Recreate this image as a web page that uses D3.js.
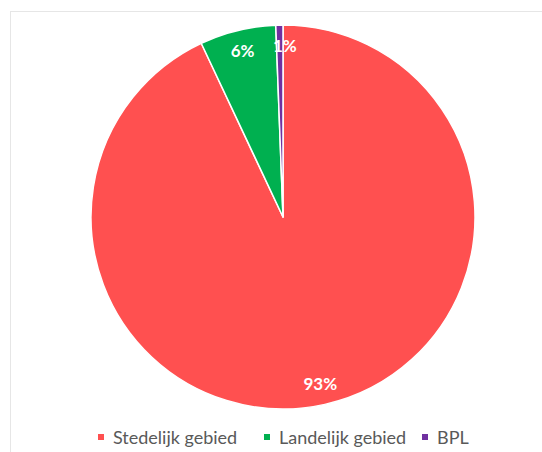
<!DOCTYPE html>
<html><head><meta charset="utf-8">
<script src="https://cdn.jsdelivr.net/npm/d3@7"></script>
<style>body{margin:0;background:#fff;}svg{display:block;}</style>
</head><body>
<script>
const categories = ["Stedelijk gebied", "Landelijk gebied", "BPL"];
const values = [93.0, 6.4, 0.6];
const colors = ["#FF5050", "#00B050", "#7030A0"];

const W = 542, H = 452;
const svg = d3.select("body").append("svg").attr("width", W).attr("height", H);

// chart border
svg.append("rect").attr("x", 10.5).attr("y", 11.5).attr("width", W).attr("height", H)
  .attr("fill", "none").attr("stroke", "#e6e6e6").attr("stroke-width", 1);

const cx = 283, cy = 217, R = 192;
const data = categories.map((c, i) => ({ cat: c, value: values[i], color: colors[i] }));
const total = d3.sum(values);
const pie = d3.pie().value(d => d.value).sort(null);
const arcs = pie(data);
const arc = d3.arc().innerRadius(0).outerRadius(R);
const labelArc = d3.arc().innerRadius(171).outerRadius(171);

const g = svg.append("g").attr("transform", `translate(${cx},${cy})`);
g.selectAll("path").data(arcs).join("path")
  .attr("d", arc).attr("fill", d => d.data.color)
  .attr("stroke", "#fff").attr("stroke-width", 1.5).attr("stroke-linejoin", "round");

const fmt = d3.format(".0%");
g.selectAll("text.lbl").data(arcs).join("text").attr("class", "lbl")
  .attr("transform", d => { const [x, y] = labelArc.centroid(d); return `translate(${x + (d.index === 2 ? 5 : 0)},${y})`; })
  .attr("text-anchor", "middle").attr("dy", "0.35em")
  .attr("fill", "#fff").attr("font-family", "Lato, 'Open Sans', sans-serif")
  .attr("font-size", 17).attr("font-weight", "bold")
  .text(d => fmt(d.data.value / total));

// legend
const legendX = [98, 264, 422];
const legY = 438;
const lg = svg.append("g");
const items = lg.selectAll("g").data(data).join("g")
  .attr("transform", (d, i) => `translate(${legendX[i]},${legY})`);
items.append("rect").attr("x", 0).attr("y", -4).attr("width", 6).attr("height", 6)
  .attr("fill", d => d.color);
items.append("text").attr("x", 15).attr("y", 0).attr("dy", "0.35em")
  .attr("fill", "#595959").attr("font-family", "Lato, 'Open Sans', sans-serif")
  .attr("font-size", 18).text(d => d.cat);
</script>
</body></html>
